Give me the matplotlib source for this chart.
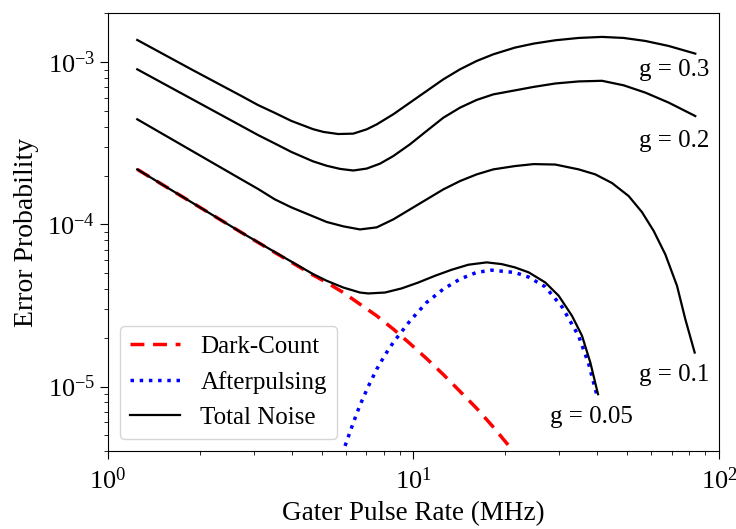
import numpy as np
import matplotlib
matplotlib.use('Agg')
import matplotlib.pyplot as plt

plt.rcParams['font.family'] = ['Liberation Serif', 'DejaVu Serif']
plt.rcParams['mathtext.fontset'] = 'stix'
plt.rcParams['font.size'] = 18

# total noise curves (MHz, error probability)
g03_x = [1.247, 1.874, 2.732, 3.097, 3.512, 3.982, 4.688, 5.07, 5.67, 6.35, 7.03,
         7.58, 8.59, 9.74, 11.04, 12.52, 14.20, 16.10, 18.25, 21.48, 24.74, 29.12,
         34.72, 41.40, 48.75, 57.40, 68.43, 83.64]
g03_y = [1.373e-3, 9.05e-4, 6.20e-4, 5.45e-4, 4.88e-4, 4.35e-4, 3.87e-4, 3.72e-4,
         3.61e-4, 3.63e-4, 3.86e-4, 4.14e-4, 4.78e-4, 5.64e-4, 6.65e-4, 7.85e-4,
         9.05e-4, 1.019e-3, 1.120e-3, 1.232e-3, 1.304e-3, 1.367e-3, 1.413e-3,
         1.434e-3, 1.413e-3, 1.354e-3, 1.261e-3, 1.131e-3]

g02_x = [1.247, 2.732, 3.097, 3.512, 3.982, 4.688, 5.20, 5.75, 6.35, 7.03, 7.77,
         8.59, 9.74, 11.04, 12.52, 14.20, 16.10, 18.25, 21.48, 24.74, 29.12, 34.72,
         41.40, 48.75, 57.40, 68.43, 83.64]
g02_y = [9.05e-4, 4.05e-4, 3.56e-4, 3.16e-4, 2.80e-4, 2.45e-4, 2.30e-4, 2.20e-4,
         2.15e-4, 2.21e-4, 2.37e-4, 2.64e-4, 3.12e-4, 3.77e-4, 4.55e-4, 5.25e-4,
         5.86e-4, 6.34e-4, 6.71e-4, 7.05e-4, 7.40e-4, 7.62e-4, 7.69e-4, 7.21e-4,
         6.50e-4, 5.64e-4, 4.66e-4]

g01_x = [1.247, 2.732, 3.097, 3.512, 3.982, 4.688, 5.20, 5.89, 6.68, 7.58, 8.59,
         9.74, 11.04, 12.52, 14.20, 16.10, 18.25, 21.48, 24.74, 29.12, 34.72, 39.38,
         44.64, 50.62, 55.97, 61.11, 66.73, 72.87, 77.59, 83.25]
g01_y = [4.45e-4, 1.896e-4, 1.656e-4, 1.429e-4, 1.274e-4, 1.122e-4, 1.035e-4,
         9.73e-5, 9.31e-5, 9.59e-5, 1.074e-4, 1.238e-4, 1.426e-4, 1.644e-4,
         1.851e-4, 2.035e-4, 2.185e-4, 2.29e-4, 2.355e-4, 2.34e-4, 2.185e-4,
         2.035e-4, 1.80e-4, 1.496e-4, 1.19e-4, 9.12e-5, 6.53e-5, 4.18e-5,
         2.60e-5, 1.62e-5]

g005_x = [1.247, 2.732, 3.512, 4.688, 5.20, 5.89, 6.68, 7.11, 8.07, 9.15, 10.37,
          11.76, 13.33, 15.12, 17.36, 19.44, 21.48, 23.83, 27.01, 29.87, 33.02,
          35.60, 37.92, 40.17]
g005_y = [2.185e-4, 8.92e-5, 6.76e-5, 4.94e-5, 4.49e-5, 4.08e-5, 3.80e-5, 3.75e-5,
          3.80e-5, 4.03e-5, 4.38e-5, 4.82e-5, 5.25e-5, 5.64e-5, 5.83e-5, 5.69e-5,
          5.43e-5, 5.06e-5, 4.38e-5, 3.63e-5, 2.73e-5, 2.06e-5, 1.406e-5, 8.97e-6]

# components for g = 0.05
dark_x = [1.247, 2.732, 3.512, 4.688, 5.20, 5.89, 6.68, 7.58, 8.59, 9.74, 11.04,
          12.52, 14.20, 16.10, 18.25, 20.70, 21.76]
dark_y = [2.185e-4, 8.92e-5, 6.72e-5, 4.87e-5, 4.385e-5, 3.80e-5, 3.22e-5, 2.73e-5,
          2.26e-5, 1.84e-5, 1.486e-5, 1.186e-5, 9.33e-6, 7.33e-6, 5.62e-6, 4.22e-6,
          3.63e-6]

after_x = [5.97, 6.35, 6.68, 7.11, 7.58, 8.07, 8.59, 9.74, 11.04, 12.52, 14.20,
           16.10, 18.03, 21.48, 23.83, 27.01, 30.63, 34.72, 37.44, 39.86]
after_y = [4.30e-6, 5.96e-6, 7.67e-6, 1.0e-5, 1.279e-5, 1.567e-5, 1.871e-5,
           2.54e-5, 3.30e-5, 3.99e-5, 4.60e-5, 5.06e-5, 5.22e-5, 5.05e-5, 4.73e-5,
           4.12e-5, 3.1e-5, 2.05e-5, 1.38e-5, 8.8e-6]

labels = ['g = 0.3', 'g = 0.2', 'g = 0.1', 'g = 0.05']
label_x = [71.5, 71.5, 71.3, 38.1]
label_y = [8.93e-4, 3.25e-4, 1.186e-5, 6.53e-6]

fig = plt.figure(figsize=(7.36, 5.29), dpi=100)
ax = fig.add_axes([0.1467, 0.1474, 0.8302, 0.8271])

ax.plot(dark_x, dark_y, 'r--', lw=2.5, label='Dark-Count', dashes=(4, 2.5))
ax.plot(after_x, after_y, 'b:', lw=2.5, label='Afterpulsing')
ax.plot(g005_x, g005_y, 'k-', lw=1.6, label='Total Noise')
ax.plot(g01_x, g01_y, 'k-', lw=1.6)
ax.plot(g02_x, g02_y, 'k-', lw=1.6)
ax.plot(g03_x, g03_y, 'k-', lw=1.6)

for txt, tx, ty in zip(labels, label_x, label_y):
    ax.text(tx, ty, txt, ha='center', va='center', fontsize=18)

ax.set_xscale('log')
ax.set_yscale('log')
ax.set_xlim(1, 100)
ax.set_ylim(4e-6, 2e-3)
ax.tick_params(which='major', length=5.8, direction='out', labelsize=19)
ax.tick_params(which='minor', length=2.9, direction='out')
ax.xaxis.set_tick_params(pad=6)

ax.set_xlabel('Gater Pulse Rate (MHz)', fontsize=19.5, labelpad=5)
ax.set_ylabel('Error Probability', fontsize=20, labelpad=6)
ax.legend(loc='lower left', fontsize=18, handlelength=2.0)

fig.savefig('out.png', dpi=100)
